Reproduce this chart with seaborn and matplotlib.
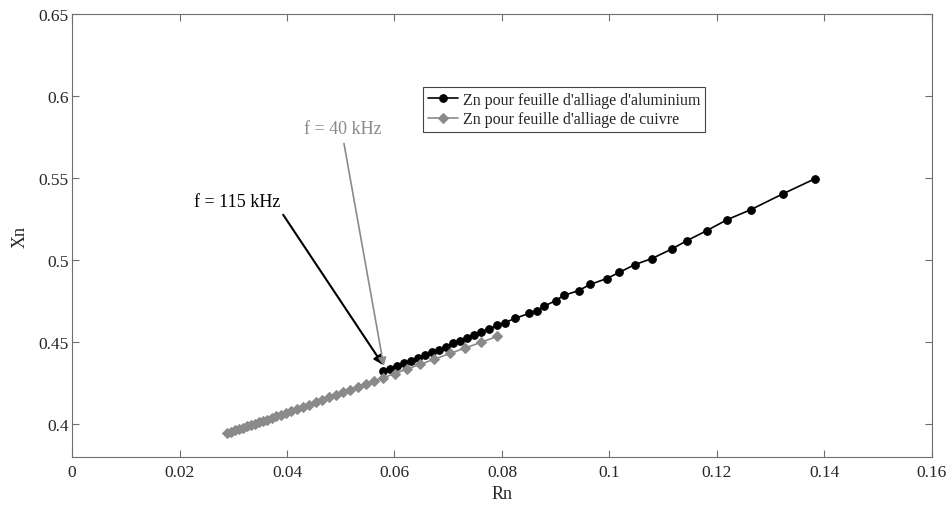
import matplotlib
matplotlib.use("Agg")
import matplotlib.pyplot as plt
import pandas as pd
import seaborn as sns

# Zn, feuille d'alliage d'aluminium (noir)
rn_alu = [0.0579, 0.0592, 0.0605, 0.0618, 0.0631, 0.0644, 0.0657, 0.0670, 0.0683,
          0.0696, 0.0709, 0.0722, 0.0735, 0.0748, 0.0761, 0.0776, 0.0791, 0.0806,
          0.0824, 0.0850, 0.0865, 0.0878, 0.0900, 0.0915, 0.0943, 0.0964, 0.0995,
          0.1018, 0.1047, 0.1079, 0.1116, 0.1144, 0.1181, 0.1219, 0.1263, 0.1323,
          0.1382]
xn_alu = [0.4322, 0.4338, 0.4353, 0.4371, 0.4386, 0.4401, 0.4420, 0.4438, 0.4453,
          0.4471, 0.4493, 0.4508, 0.4526, 0.4544, 0.4560, 0.4581, 0.4602, 0.4620,
          0.4645, 0.4675, 0.4693, 0.4718, 0.4754, 0.4785, 0.4815, 0.4852, 0.4888,
          0.4925, 0.4973, 0.5010, 0.5068, 0.5119, 0.5180, 0.5247, 0.5308, 0.5405,
          0.5496]

# Zn, feuille d'alliage de cuivre (gris)
rn_cu = [0.0288, 0.0296, 0.0303, 0.0311, 0.0318, 0.0326, 0.0333, 0.0340, 0.0348,
         0.0355, 0.0363, 0.0372, 0.0380, 0.0389, 0.0398, 0.0407, 0.0419, 0.0430,
         0.0441, 0.0454, 0.0465, 0.0478, 0.0491, 0.0504, 0.0517, 0.0532, 0.0547,
         0.0562, 0.0579, 0.0601, 0.0623, 0.0647, 0.0673, 0.0703, 0.0731, 0.0761,
         0.0791]
xn_cu = [0.3945, 0.3953, 0.3962, 0.3970, 0.3978, 0.3986, 0.3994, 0.4002, 0.4011,
         0.4019, 0.4028, 0.4038, 0.4047, 0.4058, 0.4069, 0.4080, 0.4093, 0.4106,
         0.4120, 0.4135, 0.4148, 0.4164, 0.4179, 0.4195, 0.4210, 0.4227, 0.4245,
         0.4263, 0.4283, 0.4309, 0.4336, 0.4364, 0.4395, 0.4431, 0.4464, 0.4499,
         0.4535]

labels = ["Zn pour feuille d'alliage d'aluminium", "Zn pour feuille d'alliage de cuivre"]
x_ticks = [0, 0.02, 0.04, 0.06, 0.08, 0.1, 0.12, 0.14, 0.16]
x_tick_labels = ["0", "0.02", "0.04", "0.06", "0.08", "0.1", "0.12", "0.14", "0.16"]
y_ticks = [0.4, 0.45, 0.5, 0.55, 0.6, 0.65]
y_tick_labels = ["0.4", "0.45", "0.5", "0.55", "0.6", "0.65"]

sns.set_style("ticks")
plt.rcParams['font.family'] = ['Liberation Serif', 'DejaVu Serif']
plt.rcParams['font.size'] = 12

gray = "#8a8a8a"
frame = "#6e6e6e"

df_alu = pd.DataFrame({"Rn": rn_alu, "Xn": xn_alu})
df_cu = pd.DataFrame({"Rn": rn_cu, "Xn": xn_cu})

fig, ax = plt.subplots(figsize=(9.49, 5.06), dpi=100)
fig.subplots_adjust(left=0.0759, right=0.982, top=0.970, bottom=0.0949)

sns.lineplot(data=df_alu, x="Rn", y="Xn", sort=False, estimator=None, color="black",
             marker="o", markersize=5.5, markeredgecolor="black", linewidth=1.2,
             label=labels[0], ax=ax)
sns.lineplot(data=df_cu, x="Rn", y="Xn", sort=False, estimator=None, color=gray,
             marker="D", markersize=5.0, markeredgecolor=gray, linewidth=1.2,
             label=labels[1], ax=ax)

ax.set_xlim(0, 0.16)
ax.set_ylim(0.38, 0.65)
ax.set_xticks(x_ticks)
ax.set_xticklabels(x_tick_labels)
ax.set_yticks(y_ticks)
ax.set_yticklabels(y_tick_labels)
ax.tick_params(direction="in", length=5, width=0.8, color=frame, labelsize=12.5,
               top=True, right=True)
ax.tick_params(axis="y", pad=2.5)
ax.tick_params(axis="x", pad=5)
for sp in ax.spines.values():
    sp.set_color(frame)
    sp.set_linewidth(0.8)

ax.set_xlabel("Rn", fontsize=13, labelpad=4)
ax.set_ylabel("Xn", fontsize=13, labelpad=7)

# arrows start from the bottom-right / bottom-centre of each label
ax.annotate("f = 115 kHz", xy=(0.0579, 0.4360), xytext=(0.0307, 0.5356),
            ha="center", va="center", fontsize=13, color="black",
            arrowprops=dict(arrowstyle="-|>", color="black", lw=1.5, relpos=(1.0, 0.0),
                            shrinkA=1, shrinkB=0, mutation_scale=14))
ax.annotate("f = 40 kHz", xy=(0.0580, 0.4355), xytext=(0.0504, 0.5800),
            ha="center", va="center", fontsize=13, color=gray,
            arrowprops=dict(arrowstyle="-|>", color=gray, lw=1.2, relpos=(0.5, 0.0),
                            shrinkA=2, shrinkB=0, mutation_scale=12))

leg = ax.legend(loc="upper left", bbox_to_anchor=(0.408, 0.835), borderaxespad=0,
                fancybox=False, framealpha=1, edgecolor="#444444", fontsize=11.5,
                handlelength=1.9, handletextpad=0.3, borderpad=0.3, labelspacing=0.2)
leg.get_frame().set_linewidth(0.8)

fig.savefig("out.png", dpi=100)
